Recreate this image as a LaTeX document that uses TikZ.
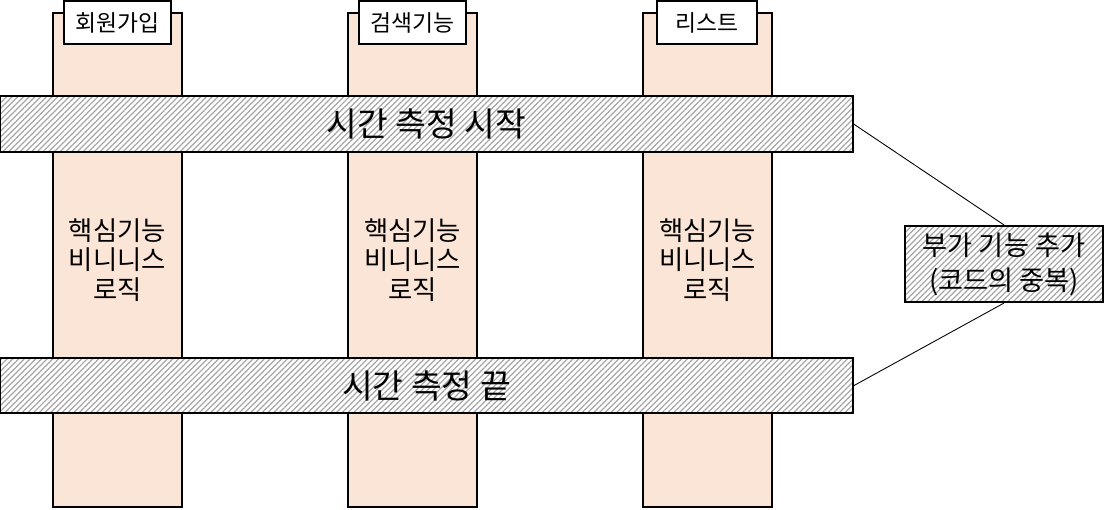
\documentclass[tikz,border=0pt]{standalone}
\usepackage{fontspec}
\setmainfont{Noto Sans CJK KR}
\usepackage{tikz}
\usetikzlibrary{patterns.meta}
\definecolor{peachC}{HTML}{FBE5D6}
\definecolor{hatchG}{HTML}{A6A6A6}

\tikzset{
  colbox/.style={draw=black,line width=1.2pt,fill=peachC,minimum width=2.58cm,
                 minimum height=9.88cm,inner sep=0pt,align=center,font=\fontsize{15}{16.8}\selectfont},
  labelbox/.style={draw=black,line width=1.2pt,fill=white,minimum height=0.86cm,
                   inner sep=0pt,font=\fontsize{13}{15}\selectfont},
  hatchbox/.style={draw=black,line width=1.2pt,inner sep=0pt,align=center,
                   preaction={fill=white},
                   pattern={Lines[angle=45,distance=2.3pt,line width=0.7pt]},
                   pattern color=hatchG},
}

\begin{document}
\begin{tikzpicture}
  \useasboundingbox (0,0) rectangle (22.1,10.18);
  % columns
  \node[colbox] (col1) at (2.35,4.98)  {핵심기능\\비니니스\\로직};
  \node[colbox] (col2) at (8.25,4.98)  {핵심기능\\비니니스\\로직};
  \node[colbox] (col3) at (14.15,4.98) {핵심기능\\비니니스\\로직};
  \node[labelbox,minimum width=2.14cm] (lbl1) at (2.35,9.73)  {회원가입};
  \node[labelbox,minimum width=2.14cm] (lbl2) at (8.25,9.73)  {검색기능};
  \node[labelbox,minimum width=2.0cm]  (lbl3) at (14.14,9.73) {리스트};
  % timing bands
  \node[hatchbox,minimum width=17.06cm,minimum height=1.12cm,
        font=\fontsize{19}{22}\selectfont] (tstart) at (8.53,7.70) {시간 측정 시작};
  \node[hatchbox,minimum width=17.06cm,minimum height=1.10cm,
        font=\fontsize{19}{22}\selectfont] (tend) at (8.53,2.47) {시간 측정 끝};
  \node[hatchbox,minimum width=3.96cm,minimum height=1.52cm,
        font=\fontsize{15.5}{20}\selectfont] (extra) at (20.08,4.90) {부가 기능 추가\\(코드의 중복)};
  \draw[line width=0.5pt] (tstart.east) -- (extra.north);
  \draw[line width=0.5pt] (tend.east) -- (extra.south);
\end{tikzpicture}
\end{document}
